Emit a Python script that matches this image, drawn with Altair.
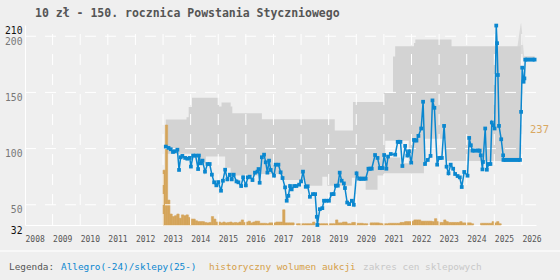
import altair as alt
import pandas as pd

TITLE = "10 zł - 150. rocznica Powstania Styczniowego"
LEGEND_LABEL = "Legenda:"
LEGEND_PRICE = "Allegro(-24)/sklepy(25-)"
LEGEND_VOLUME = "historyczny wolumen aukcji"
LEGEND_RANGE = "zakres cen sklepowych"
MAX_VOLUME_LABEL = "237"

# ---- price series (Allegro / shops), decimal years ----
price_year = [
    2013.10, 2013.20, 2013.28, 2013.36, 2013.43, 2013.52, 2013.58, 2013.64, 2013.70, 2013.80,
    2013.88, 2013.97, 2014.01, 2014.09, 2014.18, 2014.27, 2014.30, 2014.37, 2014.43, 2014.52,
    2014.61, 2014.69, 2014.77, 2014.85, 2014.93, 2015.00, 2015.10, 2015.17, 2015.25, 2015.33,
    2015.42, 2015.49, 2015.56, 2015.66, 2015.73, 2015.83, 2015.90, 2016.00, 2016.07, 2016.14,
    2016.24, 2016.33, 2016.42, 2016.46, 2016.50, 2016.58, 2016.66, 2016.72, 2016.78, 2016.84,
    2016.90, 2017.02, 2017.08, 2017.18, 2017.26, 2017.33, 2017.42, 2017.48, 2017.54, 2017.60,
    2017.66, 2017.75, 2017.83, 2017.93, 2018.00, 2018.07, 2018.17, 2018.24, 2018.32, 2018.43,
    2018.51, 2018.57, 2018.59, 2018.68, 2018.77, 2018.83, 2018.92, 2019.01, 2019.11, 2019.18,
    2019.26, 2019.33, 2019.40, 2019.47, 2019.55, 2019.59, 2019.67, 2019.74, 2019.84, 2019.91,
    2020.01, 2020.10, 2020.20, 2020.34, 2020.44, 2020.56, 2020.68, 2020.77, 2020.85, 2020.95,
    2021.01, 2021.09, 2021.15, 2021.25, 2021.41, 2021.50, 2021.60, 2021.67, 2021.77, 2021.85,
    2021.91, 2021.99, 2022.09, 2022.18, 2022.25, 2022.35, 2022.42, 2022.49, 2022.59, 2022.69,
    2022.76, 2022.83, 2022.93, 2023.00, 2023.10, 2023.18, 2023.27, 2023.34, 2023.42, 2023.51,
    2023.58, 2023.67, 2023.75, 2023.82, 2023.91, 2024.03, 2024.09, 2024.15, 2024.21, 2024.47,
    2024.51, 2024.57, 2024.59, 2024.67, 2024.73, 2024.80, 2024.86, 2024.91, 2024.96, 2025.01,
    2025.07, 2025.10, 2025.13, 2025.17, 2025.25, 2025.32, 2025.33, 2025.93, 2025.97, 2026.01,
    2026.06, 2026.09, 2026.12, 2026.46,
]
price_value = [
    101.8, 100.6, 99.4, 97.0, 97.6, 99.0, 81.0, 92.3, 93.5, 91.7,
    91.0, 91.7, 84.0, 93.8, 93.8, 81.8, 93.8, 86.9, 89.3, 79.5,
    86.3, 86.3, 76.8, 70.0, 67.3, 70.2, 62.5, 71.4, 81.2, 72.6,
    76.8, 72.6, 76.8, 70.8, 70.0, 66.7, 74.4, 67.3, 74.4, 75.0,
    72.0, 78.6, 79.5, 81.8, 69.6, 92.3, 94.6, 87.8, 78.6, 89.3,
    81.0, 75.9, 85.7, 85.7, 78.9, 73.8, 65.5, 53.6, 58.0, 66.7,
    63.7, 66.7, 66.7, 67.9, 70.8, 79.5, 66.0, 66.5, 57.1, 59.5,
    59.5, 39.3, 32.0, 46.1, 47.0, 53.6, 53.6, 53.6, 59.5, 59.5,
    67.0, 67.0, 78.6, 71.4, 69.0, 64.9, 52.0, 50.6, 53.6, 50.0,
    78.0, 73.2, 73.2, 73.2, 82.1, 82.1, 94.3, 91.7, 82.7, 82.7,
    94.3, 82.1, 92.9, 95.2, 94.6, 106.0, 106.0, 84.5, 102.4, 93.8,
    97.6, 87.5, 107.7, 107.1, 111.3, 117.9, 141.7, 86.3, 89.9, 93.5,
    142.9, 136.3, 85.7, 91.7, 91.7, 120.2, 83.9, 78.0, 85.7, 82.1,
    77.4, 75.6, 74.4, 65.8, 79.2, 75.9, 109.5, 103.0, 98.2, 98.2,
    94.0, 81.5, 88.1, 117.9, 81.2, 86.3, 86.3, 123.2, 120.8, 117.9,
    209.5, 193.8, 165.5, 120.2, 108.3, 94.0, 89.9, 89.9, 132.7, 172.0,
    159.5, 162.5, 179.2, 179.2,
]

# ---- flat runs of the price (dense markers) ----
run_start = [2020.10, 2020.44, 2020.85, 2021.50, 2022.09, 2023.00, 2024.21, 2025.33, 2026.12]
run_end = [2020.34, 2020.56, 2020.95, 2021.60, 2022.18, 2023.10, 2024.47, 2025.93, 2026.46]
run_value = [73.2, 82.1, 82.7, 106.0, 107.4, 91.7, 98.2, 89.9, 179.2]

# ---- shop price range (step) ----
band_year = [
    2013.10, 2013.85, 2013.93, 2014.05, 2014.25, 2014.55, 2015.03, 2015.12, 2015.25, 2015.45,
    2015.51, 2016.45, 2016.58, 2017.26, 2018.17, 2018.77, 2018.95, 2019.22, 2019.84, 2019.88,
    2020.10, 2020.34, 2020.77, 2021.00, 2021.33, 2021.41, 2022.09, 2022.14, 2022.45, 2023.25,
    2023.45, 2025.96,
]
band_lo = [
    95.5, 95.5, 95.5, 95.5, 86.5, 93.0, 93.0, 93.0, 83.0, 76.0,
    76.0, 77.4, 77.4, 72.0, 67.0, 75.0, 67.0, 67.0, 74.0, 74.0,
    73.0, 63.4, 76.0, 78.0, 78.0, 78.0, 78.0, 78.0, 108.7, 89.0,
    89.0, 89.0,
]
band_hi = [
    126.0, 128.0, 137.0, 145.3, 145.3, 145.3, 137.5, 141.0, 141.0, 137.5,
    131.5, 131.5, 126.2, 126.2, 126.2, 126.2, 126.2, 116.0, 116.0, 141.4,
    141.4, 141.4, 141.4, 149.4, 182.0, 191.0, 194.0, 197.0, 197.0, 197.0,
    191.0, 191.0,
]

# lighter gap inside the range
gap_year = [2021.05, 2021.60, 2021.90]
gap_lo = [92.0, 87.0, 87.0]
gap_hi = [107.0, 107.0, 107.0]

# latest shop-price spike (lighter)
spike_year = [2025.84, 2025.88, 2025.92, 2025.95, 2025.97, 2025.99, 2026.02, 2026.05, 2026.08, 2026.46]
spike_lo = [181.0, 181.0, 181.0, 181.0, 181.0, 181.0, 181.0, 181.0, 179.5, 179.5]
spike_hi = [191.0, 198.0, 205.0, 210.0, 212.0, 207.0, 200.0, 190.0, 182.5, 182.5]

# ---- monthly auction volume, from Jan 2013 ----
volume_first_year = 2013
volume = [
    130, 237, 59, 26, 20, 22, 26, 16, 24, 22, 24, 18,
    14, 14, 10, 8, 8, 8, 6, 5, 6, 20, 14, 7,
    7, 5, 7, 5, 6, 7, 5, 6, 5, 7, 12, 6,
    7, 9, 5, 7, 9, 9, 4, 4, 4, 3, 5, 5,
    5, 7, 7, 7, 36, 5, 5, 5, 5, 0, 3, 3,
    3, 3, 3, 3, 3, 7, 0, 3, 3, 3, 3, 3,
    3, 3, 3, 12, 5, 5, 7, 7, 3, 3, 6, 6,
    4, 4, 4, 3, 3, 0, 5, 5, 5, 5, 4, 3,
    3, 3, 4, 4, 4, 4, 4, 6, 6, 8, 8, 8,
    9, 12, 12, 12, 9, 9, 9, 9, 9, 8, 15, 8,
    6, 6, 12, 8, 6, 6, 6, 6, 6, 8, 5, 5,
    5, 5, 3, 0, 0, 0, 4, 4, 4, 4, 4, 8,
    5, 8, 3,
]

x_ticks = list(range(2008, 2027))
x_grid = list(range(2009, 2027))
y_ticks = [32, 50, 100, 150, 200, 210]
y_grid = [50, 100, 150, 200]

# ---- frames ----
price_df = pd.DataFrame({"year": price_year, "value": price_value})
run_df = pd.DataFrame({"start": run_start, "end": run_end, "value": run_value})
band_df = pd.DataFrame({"year": band_year, "lo": band_lo, "hi": band_hi})
gap_df = pd.DataFrame({"year": gap_year, "lo": gap_lo, "hi": gap_hi})
spike_df = pd.DataFrame({"year": spike_year, "lo": spike_lo, "hi": spike_hi})
vol_df = pd.DataFrame({
    "start": [volume_first_year + i / 12 for i in range(len(volume))],
    "end": [volume_first_year + (i + 1) / 12 for i in range(len(volume))],
    "v": volume,
})
vol_df = vol_df[vol_df["v"] > 0]
xg_df = pd.DataFrame({"year": x_grid})
yg_df = pd.DataFrame({"value": y_grid})

W, H = 511, 200
MONO = "DejaVu Sans Mono"
BG = "#efefef"
BLUE = "#0b87cf"
ORANGE = "#d5a55a"

xs = alt.Scale(domain=[2008, 2026.51], nice=False, zero=False)
ys = alt.Scale(domain=[32, 210], nice=False, zero=False)
vs = alt.Scale(domain=[0, 474], nice=False, zero=True)

edge_test = "datum.value == 210 || datum.value == 32"
x_axis = alt.Axis(
    values=x_ticks, format="d", title=None, labelAlign="left", labelFlush=False,
    labelFont=MONO, labelFontSize=8, labelColor="#555555", labelPadding=10,
    labelOverlap=False, ticks=False, domainColor="white", grid=False,
)
y_axis = alt.Axis(
    values=y_ticks, title=None, labelFont=MONO, labelFontSize=9.7,
    labelColor={"condition": {"test": edge_test, "value": "#111111"}, "value": "#777777"},
    labelBaseline="top", labelPadding=3, labelFlush=False, labelOverlap=False,
    ticks=False, domainColor="white", grid=False,
)


def X(field):
    return alt.X(field, type="quantitative", scale=xs, axis=x_axis)


spike = alt.Chart(spike_df).mark_area(color="#dadada").encode(
    x=X("year"),
    y=alt.Y("lo:Q", scale=ys, axis=None),
    y2="hi:Q",
)
band = alt.Chart(band_df).mark_area(color="#d3d3d3", interpolate="step-after").encode(
    x=X("year"),
    y=alt.Y("lo:Q", scale=ys, axis=y_axis),
    y2="hi:Q",
)
gap = alt.Chart(gap_df).mark_area(color="#f3f3f3", interpolate="step-after").encode(
    x=X("year"),
    y=alt.Y("lo:Q", scale=ys, axis=None),
    y2="hi:Q",
)
bars = alt.Chart(vol_df).mark_bar(color=ORANGE, stroke=ORANGE, strokeWidth=0.6).encode(
    x=X("start"),
    x2="end:Q",
    y=alt.Y("v:Q", scale=vs, axis=None),
    y2=alt.datum(0),
)
vgrid = alt.Chart(xg_df).mark_rule(color="white", strokeDash=[11, 9], strokeWidth=1).encode(
    x=X("year"),
    y=alt.value(H),
    y2=alt.value(0),
)
hgrid = alt.Chart(yg_df).mark_rule(color="white", strokeDash=[11, 9], strokeWidth=1).encode(
    y=alt.Y("value:Q", scale=ys, axis=None),
    x=alt.value(0),
    x2=alt.value(W),
)
line = alt.Chart(price_df).mark_line(color=BLUE, strokeWidth=1.5).encode(
    x=X("year"),
    y=alt.Y("value:Q", scale=ys, axis=None),
)
runs = alt.Chart(run_df).mark_rule(color=BLUE, strokeWidth=4).encode(
    x=X("start"),
    x2="end:Q",
    y=alt.Y("value:Q", scale=ys, axis=None),
)
points = alt.Chart(price_df).mark_square(color=BLUE, size=14, opacity=1).encode(
    x=X("year"),
    y=alt.Y("value:Q", scale=ys, axis=None),
)
max_label = alt.Chart(pd.DataFrame({"t": [MAX_VOLUME_LABEL], "v": [max(volume)]})).mark_text(
    font=MONO, fontSize=10.5, color="#d9a862", align="left", baseline="alphabetic", dy=8,
).encode(
    text="t:N",
    x=alt.value(505),
    y=alt.Y("v:Q", scale=vs, axis=None),
)


def label(text, x, y, color, size, weight="normal", baseline="middle"):
    return alt.Chart(pd.DataFrame({"t": [text]})).mark_text(
        font=MONO, fontSize=size, fontWeight=weight, color=color,
        align="left", baseline=baseline,
    ).encode(text="t:N", x=alt.value(x), y=alt.value(y))


title = label(TITLE, 10, -8.5, "#555555", 11.5, weight="bold", baseline="alphabetic")
sep = alt.Chart(pd.DataFrame({"a": [0]})).mark_rule(color="#f8f8f8", strokeWidth=2).encode(
    x=alt.value(-25), x2=alt.value(W + 24), y=alt.value(226)
)
leg1 = label(LEGEND_LABEL, -16, 242, "#555555", 9.4)
leg2 = label(LEGEND_PRICE, 36, 242, BLUE, 9.4)
leg3 = label(LEGEND_VOLUME, 184, 242, "#d5a04a", 9.4)
leg4 = label(LEGEND_RANGE, 338, 242, "#c8c8c8", 9.4)

chart = alt.layer(
    spike, band, gap, bars, vgrid, hgrid, line, runs, points, max_label,
    title, sep, leg1, leg2, leg3, leg4,
).resolve_scale(y="independent").properties(
    width=W, height=H,
    autosize="none",
    padding={"left": 25, "top": 25, "right": 24, "bottom": 55},
    background=BG,
).configure_view(strokeWidth=0)

chart.save("out.html", embed_options={"renderer": "svg", "actions": False})
